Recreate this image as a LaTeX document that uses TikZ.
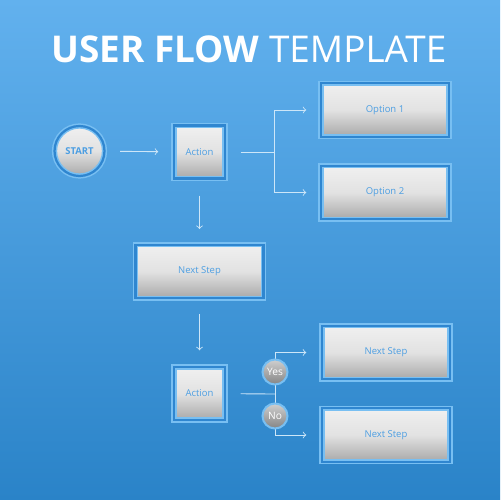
\documentclass[tikz,border=0pt]{standalone}
\usepackage{fontspec}
\setmainfont{Open Sans}
\usepackage{tikz}
\pgfdeclarelayer{bglayer}
\pgfdeclarelayer{edgelayer}
\pgfsetlayers{bglayer,edgelayer,main}

\definecolor{skytop}{HTML}{62B1EE}
\definecolor{skybottom}{HTML}{2A83C8}
\definecolor{framedark}{HTML}{2F86D0}
\definecolor{framelight}{HTML}{78BFF2}
\definecolor{paneltop}{HTML}{F0F0F0}
\definecolor{panelmid}{HTML}{E2E2E2}
\definecolor{panelbottom}{HTML}{A8A8A8}
\definecolor{labelblue}{HTML}{4C9EE2}
\definecolor{choicetop}{HTML}{CFCFCF}
\definecolor{choicebottom}{HTML}{858585}
\definecolor{linkcol}{HTML}{CDE6F8}

\tikzset{
  panel/.style={rectangle, draw=framelight, double=framedark, double distance=0.045cm,
    line width=0.03cm, top color=paneltop, bottom color=panelbottom, middle color=panelmid,
    text=labelblue, font=\fontsize{5.4}{6}\selectfont, inner sep=0pt},
  widebox/.style={panel, minimum width=2.56cm, minimum height=1.07cm},
  actionbox/.style={panel, minimum width=1.02cm, minimum height=1.06cm},
  startnode/.style={panel, circle, minimum size=1cm, font=\fontsize{5.4}{6}\selectfont\bfseries},
  choice/.style={circle, draw=framelight, line width=0.04cm, top color=choicetop,
    bottom color=choicebottom, text=white, minimum size=0.5cm, inner sep=0pt,
    font=\fontsize{5.8}{6}\selectfont},
  link/.style={draw=linkcol, line width=0.5pt},
}

\begin{document}
\begin{tikzpicture}[x=0.02cm, y=-0.02cm]
  \useasboundingbox (0,0) rectangle (500,500);
  \begin{pgfonlayer}{bglayer}
    \fill[top color=skytop, bottom color=skybottom] (0,0) rectangle (500,500);
  \end{pgfonlayer}

  % Title
  \node[text=white] (title) at (249,49) {\fontsize{21}{24}\selectfont\bfseries USER FLOW \mdseries TEMPLATE};

  % Top row
  \node[startnode] (start) at (79.5,151) {START};
  \node[actionbox] (act1) at (199.5,152) {Action};
  \node[widebox] (opt1) at (385,110) {Option 1};
  \node[widebox] (opt2) at (385,192.5) {Option 2};
  \coordinate (fork1) at (274,152);

  % Middle
  \node[widebox] (next1) at (199.5,271.5) {Next Step};

  % Bottom row
  \node[actionbox] (act2) at (199.5,393.5) {Action};
  \node[widebox] (next2) at (386,352.5) {Next Step};
  \node[widebox] (next3) at (386,435) {Next Step};
  \coordinate (fork2) at (275,394);
  \node[choice] (yes) at (275,372) {Yes};
  \node[choice] (no) at (275,416) {No};

  \begin{pgfonlayer}{edgelayer}
    \draw[link, ->, shorten <=0.3cm, shorten >=0.3cm] (start) -- (act1);
    \draw[link, shorten <=0.3cm] (act1) -- (fork1);
    \draw[link, ->, shorten >=0.28cm] (fork1) |- (opt1);
    \draw[link, ->, shorten >=0.28cm] (fork1) |- (opt2);
    \draw[link, ->, shorten <=0.33cm, shorten >=0.3cm] (act1) -- (next1);
    \draw[link, ->, shorten <=0.3cm, shorten >=0.32cm] (next1) -- (act2);
    \draw[link, shorten <=0.3cm] (act2) -- (fork2);
    \draw[link, ->, shorten >=0.3cm] (fork2) |- (next2);
    \draw[link, ->, shorten >=0.3cm] (fork2) |- (next3);
  \end{pgfonlayer}
\end{tikzpicture}
\end{document}
